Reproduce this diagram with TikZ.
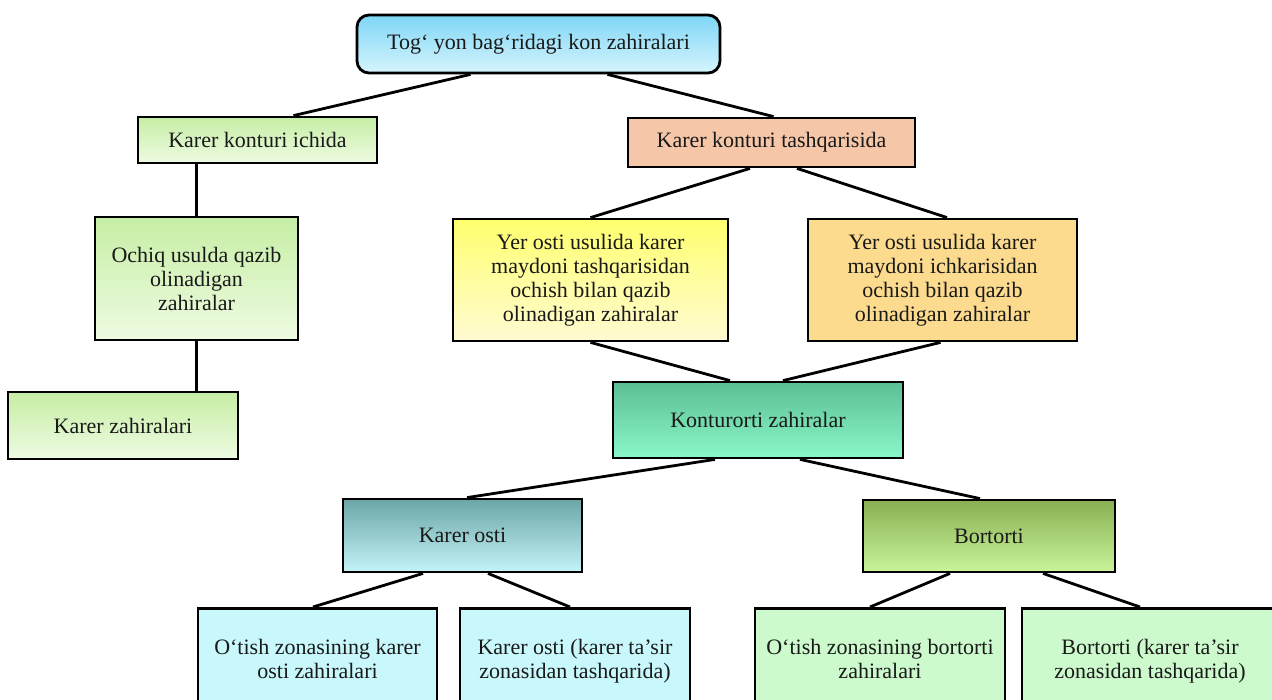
\documentclass[tikz,border=0pt]{standalone}
\usepackage{fontspec}
\setmainfont{Liberation Serif}
\usetikzlibrary{calc}

\definecolor{skytop}{HTML}{7ED6F6}
\definecolor{skybot}{HTML}{D6F5FD}
\definecolor{leaftop}{HTML}{C6EEA4}
\definecolor{leafbot}{HTML}{EEFBE2}
\definecolor{salmon}{HTML}{F6C6A8}
\definecolor{lemontop}{HTML}{FFFF6E}
\definecolor{lemonbot}{HTML}{FFFBD2}
\definecolor{apricot}{HTML}{FDDB8E}
\definecolor{minttop}{HTML}{5CBF94}
\definecolor{mintbot}{HTML}{8AF7C8}
\definecolor{tealtop}{HTML}{6BA6A6}
\definecolor{tealbot}{HTML}{C4F3F8}
\definecolor{olivetop}{HTML}{88B052}
\definecolor{olivebot}{HTML}{CAF49A}
\definecolor{icecyan}{HTML}{C8F8FC}
\definecolor{icegreen}{HTML}{CCFACC}

\begin{document}
\begin{tikzpicture}[x=0.5pt, y=-0.5pt,
  box/.style={draw, line width=1.4pt, align=center, inner sep=2pt, text=black!90,
              font=\fontsize{11}{12}\selectfont},
  leafbox/.style={box, top color=leaftop, bottom color=leafbot},
  footbox/.style={box, anchor=north, text height=33pt, text depth=60pt},
  link/.style={line width=1.4pt}]

\useasboundingbox (0, 0) rectangle (1272, 700);
\clip (0, 0) rectangle (1272, 700);

% top of the tree
\node (top)    at (538.5, 44)  [box, rounded corners=6pt, top color=skytop, bottom color=skybot, minimum width=181.5pt, minimum height=29pt] {Tog‘ yon bag‘ridagi kon zahiralari};

% left branch
\node (ichida) at (257.5, 140) [leafbox, minimum width=119.5pt, minimum height=23pt]   {Karer konturi ichida};
\node (ochiq)  at (196.5, 278.5) [leafbox, minimum width=101.5pt, minimum height=61.5pt] {Ochiq usulda qazib\\olinadigan\\zahiralar};
\node (kzah)   at (123, 425.5) [leafbox, minimum width=115pt, minimum height=33.5pt] {Karer zahiralari};

% right branch
\node (tashq)  at (771.5, 142.5) [box, fill=salmon, minimum width=143.5pt, minimum height=24.5pt] {Karer konturi tashqarisida};
\node (yer1)   at (590.5, 280) [box, top color=lemontop, bottom color=lemonbot, minimum width=137.5pt, minimum height=61pt] {Yer osti usulida karer\\maydoni tashqarisidan\\ochish bilan qazib\\olinadigan zahiralar};
\node (yer2)   at (942.5, 280) [box, fill=apricot, minimum width=134.5pt, minimum height=61pt] {Yer osti usulida karer\\maydoni ichkarisidan\\ochish bilan qazib\\olinadigan zahiralar};
\node (kontur) at (758, 420)   [box, top color=minttop, bottom color=mintbot, minimum width=145pt, minimum height=38pt] {Konturorti zahiralar};

\node (osti)   at (462.5, 535.5) [box, top color=tealtop, bottom color=tealbot, minimum width=119.5pt, minimum height=36.5pt] {Karer osti};
\node (bort)   at (989, 536)   [box, top color=olivetop, bottom color=olivebot, minimum width=126pt, minimum height=36pt] {Bortorti};

% bottom row
\node (ostione) at (317.5, 607) [footbox, fill=icecyan, minimum width=119.5pt]  {O‘tish zonasining karer\\osti zahiralari};
\node (ostitwo) at (575, 607)   [footbox, fill=icecyan, minimum width=115pt]    {Karer osti (karer ta’sir\\zonasidan tashqarida)};
\node (bortone) at (880, 607)   [footbox, fill=icegreen, minimum width=125pt]   {O‘tish zonasining bortorti\\zahiralari};
\node (borttwo) at (1150, 607)  [footbox, fill=icegreen, minimum width=128pt]   {Bortorti (karer ta’sir\\zonasidan tashqarida)};

\path[link] ($(top.south)+(-68, 0)$) edge ($(ichida.north)+(36, 0)$);
\path[link] ($(top.south)+(69, 0)$)  edge ($(tashq.north)+(2, 0)$);

\path[link] (ichida.south -| ochiq.north) edge (ochiq.north);
\path[link] (ochiq.south) edge (ochiq.south |- kzah.north);

\path[link] ($(tashq.south)+(-21.5, 0)$) edge (yer1.north);
\path[link] ($(tashq.south)+(25.5, 0)$)  edge ($(yer2.north)+(4.5, 0)$);

\path[link] (yer1.south) edge ($(kontur.north)+(-28, 0)$);
\path[link] ($(yer2.south)+(-2, 0)$) edge ($(kontur.north)+(25, 0)$);

\path[link] ($(kontur.south)+(-43, 0)$) edge ($(osti.north)+(4.5, 0)$);
\path[link] ($(kontur.south)+(42, 0)$)  edge ($(bort.north)+(-9, 0)$);

\path[link] ($(osti.south)+(-39.5, 0)$) edge ($(ostione.north)+(-4.5, 0)$);
\path[link] ($(osti.south)+(25.5, 0)$)  edge ($(ostitwo.north)+(-5, 0)$);

\path[link] ($(bort.south)+(-39, 0)$) edge ($(bortone.north)+(-10, 0)$);
\path[link] ($(bort.south)+(54, 0)$)  edge ($(borttwo.north)+(-10, 0)$);

\end{tikzpicture}
\end{document}
